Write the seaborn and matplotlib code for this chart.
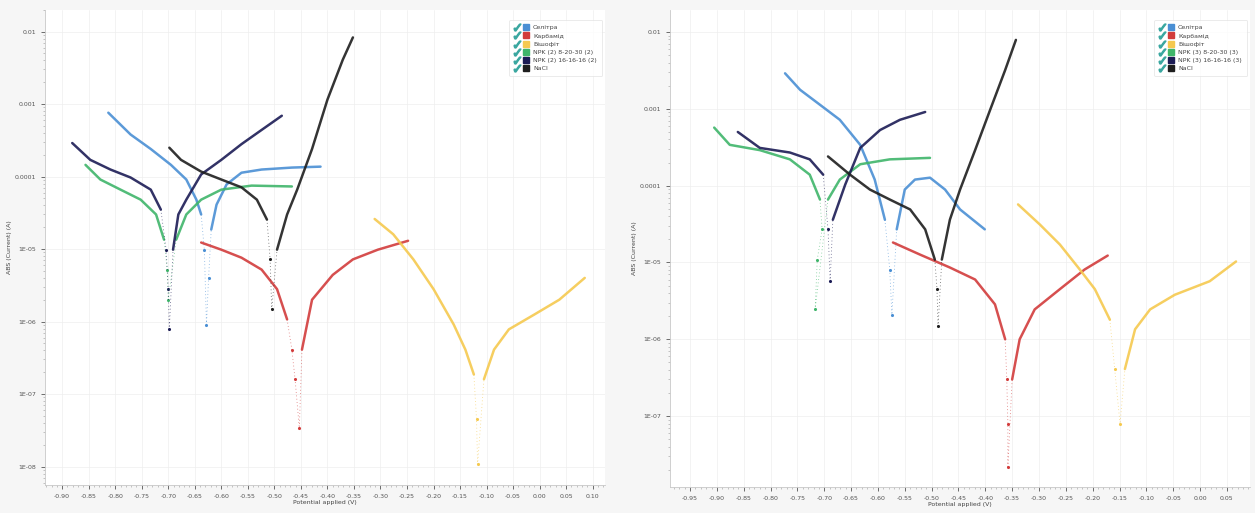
import numpy as np
import pandas as pd
import matplotlib
matplotlib.use("Agg")
import matplotlib.pyplot as plt
import seaborn as sns
from matplotlib.lines import Line2D
from matplotlib.legend_handler import HandlerTuple
from matplotlib.ticker import FixedLocator, FuncFormatter, MultipleLocator, LogLocator, NullFormatter

# ---------------- data (potential V, |current| A) ----------------
series_names_L = ["Селітра", "Карбамід", "Бішофіт", "NPK (2) 8-20-30 (2)", "NPK (2) 16-16-16 (2)", "NaCl"]
series_names_R = ["Селітра", "Карбамід", "Бішофіт", "NPK (3) 8-20-30 (3)", "NPK (3) 16-16-16 (3)", "NaCl"]
colors = ["#4a8fd4", "#d23c3c", "#f5c94f", "#3fb56a", "#1c1c55", "#1e1e1e"]

# Left panel: cathodic branch, dip points, anodic branch
L_selitra_cath_E = [-0.813, -0.771, -0.733, -0.695, -0.666, -0.647, -0.638]
L_selitra_cath_I = [7.6e-4, 3.8e-4, 2.4e-4, 1.45e-4, 9.1e-5, 4.8e-5, 3.0e-5]
L_selitra_dip_E = [-0.632, -0.628, -0.624]
L_selitra_dip_I = [9.8e-6, 9.1e-7, 4.0e-6]
L_selitra_an_E = [-0.619, -0.609, -0.590, -0.562, -0.524, -0.467, -0.413]
L_selitra_an_I = [1.86e-5, 4.1e-5, 7.8e-5, 1.13e-4, 1.25e-4, 1.33e-4, 1.37e-4]

L_karb_cath_E = [-0.638, -0.600, -0.562, -0.524, -0.495, -0.476]
L_karb_cath_I = [1.23e-5, 9.8e-6, 7.6e-6, 5.2e-6, 2.8e-6, 1.07e-6]
L_karb_dip_E = [-0.467, -0.461, -0.453]
L_karb_dip_I = [4.1e-7, 1.6e-7, 3.4e-8]
L_karb_an_E = [-0.448, -0.429, -0.390, -0.352, -0.305, -0.248]
L_karb_an_I = [4.1e-7, 2.0e-6, 4.4e-6, 7.2e-6, 9.8e-6, 1.3e-5]

L_bish_cath_E = [-0.311, -0.276, -0.238, -0.200, -0.162, -0.140, -0.124]
L_bish_cath_I = [2.6e-5, 1.6e-5, 7.2e-6, 2.8e-6, 9.1e-7, 4.1e-7, 1.86e-7]
L_bish_dip_E = [-0.119, -0.117]
L_bish_dip_I = [4.5e-8, 1.07e-8]
L_bish_an_E = [-0.105, -0.086, -0.058, -0.010, 0.037, 0.085]
L_bish_an_I = [1.6e-7, 4.1e-7, 7.8e-7, 1.25e-6, 2.0e-6, 4.0e-6]

L_npk8_cath_E = [-0.856, -0.828, -0.790, -0.752, -0.723, -0.708]
L_npk8_cath_I = [1.45e-4, 9.1e-5, 6.6e-5, 4.8e-5, 3.0e-5, 1.35e-5]
L_npk8_dip_E = [-0.702, -0.700]
L_npk8_dip_I = [5.2e-6, 2.0e-6]
L_npk8_an_E = [-0.685, -0.666, -0.638, -0.600, -0.543, -0.467]
L_npk8_an_I = [1.35e-5, 3.0e-5, 4.8e-5, 6.6e-5, 7.5e-5, 7.3e-5]

L_npk16_cath_E = [-0.881, -0.847, -0.809, -0.771, -0.733, -0.714]
L_npk16_cath_I = [2.9e-4, 1.7e-4, 1.25e-4, 9.7e-5, 6.6e-5, 3.5e-5]
L_npk16_dip_E = [-0.704, -0.700, -0.698]
L_npk16_dip_I = [9.8e-6, 2.8e-6, 7.8e-7]
L_npk16_an_E = [-0.691, -0.681, -0.666, -0.638, -0.600, -0.562, -0.524, -0.486]
L_npk16_an_I = [9.8e-6, 3.0e-5, 4.8e-5, 1.07e-4, 1.7e-4, 2.8e-4, 4.4e-4, 6.9e-4]

L_nacl_cath_E = [-0.698, -0.676, -0.638, -0.600, -0.562, -0.533, -0.514]
L_nacl_cath_I = [2.5e-4, 1.7e-4, 1.17e-4, 9.1e-5, 7.1e-5, 4.8e-5, 2.55e-5]
L_nacl_dip_E = [-0.508, -0.505]
L_nacl_dip_I = [7.2e-6, 1.47e-6]
L_nacl_an_E = [-0.495, -0.476, -0.457, -0.429, -0.400, -0.371, -0.352]
L_nacl_an_I = [9.8e-6, 3.0e-5, 6.6e-5, 2.4e-4, 1.15e-3, 4.1e-3, 8.3e-3]

# Right panel
R_selitra_cath_E = [-0.773, -0.745, -0.708, -0.671, -0.633, -0.606, -0.587]
R_selitra_cath_I = [2.9e-3, 1.77e-3, 1.13e-3, 7.2e-4, 3.4e-4, 1.2e-4, 3.6e-5]
R_selitra_dip_E = [-0.578, -0.574]
R_selitra_dip_I = [8.1e-6, 2.1e-6]
R_selitra_an_E = [-0.565, -0.550, -0.531, -0.503, -0.475, -0.447, -0.401]
R_selitra_an_I = [2.7e-5, 8.9e-5, 1.2e-4, 1.27e-4, 8.9e-5, 4.9e-5, 2.7e-5]

R_karb_cath_E = [-0.572, -0.522, -0.466, -0.419, -0.382, -0.363]
R_karb_cath_I = [1.82e-5, 1.27e-5, 8.6e-6, 6.0e-6, 2.85e-6, 1.0e-6]
R_karb_dip_E = [-0.360, -0.358, -0.358]
R_karb_dip_I = [3.0e-7, 7.9e-8, 2.2e-8]
R_karb_an_E = [-0.350, -0.336, -0.308, -0.261, -0.215, -0.172]
R_karb_an_I = [3.0e-7, 1.0e-6, 2.45e-6, 4.5e-6, 8.1e-6, 1.23e-5]

R_bish_cath_E = [-0.339, -0.298, -0.261, -0.224, -0.196, -0.168]
R_bish_cath_I = [5.7e-5, 3.1e-5, 1.71e-5, 8.1e-6, 4.5e-6, 1.8e-6]
R_bish_dip_E = [-0.159, -0.149]
R_bish_dip_I = [4.1e-7, 7.9e-8]
R_bish_an_E = [-0.140, -0.121, -0.093, -0.047, 0.018, 0.067]
R_bish_an_I = [4.1e-7, 1.35e-6, 2.45e-6, 3.8e-6, 5.7e-6, 1.03e-5]

R_npk8_cath_E = [-0.905, -0.876, -0.820, -0.764, -0.727, -0.708]
R_npk8_cath_I = [5.7e-4, 3.4e-4, 2.9e-4, 2.2e-4, 1.39e-4, 6.6e-5]
R_npk8_dip_E = [-0.704, -0.713, -0.717]
R_npk8_dip_I = [2.7e-5, 1.09e-5, 2.45e-6]
R_npk8_an_E = [-0.693, -0.671, -0.633, -0.578, -0.503]
R_npk8_an_I = [6.6e-5, 1.2e-4, 1.9e-4, 2.2e-4, 2.3e-4]

R_npk16_cath_E = [-0.861, -0.820, -0.764, -0.727, -0.702]
R_npk16_cath_I = [5.0e-4, 3.1e-4, 2.7e-4, 2.2e-4, 1.39e-4]
R_npk16_dip_E = [-0.693, -0.689]
R_npk16_dip_I = [2.7e-5, 5.7e-6]
R_npk16_an_E = [-0.684, -0.661, -0.633, -0.596, -0.559, -0.512]
R_npk16_an_I = [3.6e-5, 1.03e-4, 3.1e-4, 5.3e-4, 7.2e-4, 9.1e-4]

R_nacl_cath_E = [-0.693, -0.652, -0.615, -0.578, -0.540, -0.512, -0.494]
R_nacl_cath_I = [2.4e-4, 1.39e-4, 8.9e-5, 6.6e-5, 4.9e-5, 2.7e-5, 1.09e-5]
R_nacl_dip_E = [-0.490, -0.488]
R_nacl_dip_I = [4.5e-6, 1.48e-6]
R_nacl_an_E = [-0.481, -0.466, -0.447, -0.419, -0.391, -0.363, -0.343]
R_nacl_an_I = [1.09e-5, 3.6e-5, 8.9e-5, 2.9e-4, 9.7e-4, 3.2e-3, 7.9e-3]

x_ticks_L = [-0.90, -0.85, -0.80, -0.75, -0.70, -0.65, -0.60, -0.55, -0.50, -0.45, -0.40,
             -0.35, -0.30, -0.25, -0.20, -0.15, -0.10, -0.05, 0.00, 0.05, 0.10]
x_ticks_R = [-0.95, -0.90, -0.85, -0.80, -0.75, -0.70, -0.65, -0.60, -0.55, -0.50, -0.45,
             -0.40, -0.35, -0.30, -0.25, -0.20, -0.15, -0.10, -0.05, 0.00, 0.05]
y_ticks_L = [1e-2, 1e-3, 1e-4, 1e-5, 1e-6, 1e-7, 1e-8]
y_ticks_R = [1e-2, 1e-3, 1e-4, 1e-5, 1e-6, 1e-7]
y_tick_labels = {1e-2: "0.01", 1e-3: "0.001", 1e-4: "0.0001", 1e-5: "1E-05",
                 1e-6: "1E-06", 1e-7: "1E-07", 1e-8: "1E-08"}

# ---------------- plotting ----------------
sns.set_theme(style="white")
plt.rcParams['font.family'] = ['DejaVu Sans']

fig = plt.figure(figsize=(12.55, 5.13), dpi=100, facecolor="#f6f6f6")
axL = fig.add_axes([0.036, 0.055, 0.446, 0.926])
axR = fig.add_axes([0.534, 0.051, 0.462, 0.930])

L_data = [
    (L_selitra_cath_E, L_selitra_cath_I, L_selitra_dip_E, L_selitra_dip_I, L_selitra_an_E, L_selitra_an_I),
    (L_karb_cath_E, L_karb_cath_I, L_karb_dip_E, L_karb_dip_I, L_karb_an_E, L_karb_an_I),
    (L_bish_cath_E, L_bish_cath_I, L_bish_dip_E, L_bish_dip_I, L_bish_an_E, L_bish_an_I),
    (L_npk8_cath_E, L_npk8_cath_I, L_npk8_dip_E, L_npk8_dip_I, L_npk8_an_E, L_npk8_an_I),
    (L_npk16_cath_E, L_npk16_cath_I, L_npk16_dip_E, L_npk16_dip_I, L_npk16_an_E, L_npk16_an_I),
    (L_nacl_cath_E, L_nacl_cath_I, L_nacl_dip_E, L_nacl_dip_I, L_nacl_an_E, L_nacl_an_I),
]
R_data = [
    (R_selitra_cath_E, R_selitra_cath_I, R_selitra_dip_E, R_selitra_dip_I, R_selitra_an_E, R_selitra_an_I),
    (R_karb_cath_E, R_karb_cath_I, R_karb_dip_E, R_karb_dip_I, R_karb_an_E, R_karb_an_I),
    (R_bish_cath_E, R_bish_cath_I, R_bish_dip_E, R_bish_dip_I, R_bish_an_E, R_bish_an_I),
    (R_npk8_cath_E, R_npk8_cath_I, R_npk8_dip_E, R_npk8_dip_I, R_npk8_an_E, R_npk8_an_I),
    (R_npk16_cath_E, R_npk16_cath_I, R_npk16_dip_E, R_npk16_dip_I, R_npk16_an_E, R_npk16_an_I),
    (R_nacl_cath_E, R_nacl_cath_I, R_nacl_dip_E, R_nacl_dip_I, R_nacl_an_E, R_nacl_an_I),
]


def draw_panel(ax, data, names, xticks, yticks, xlim, ylim):
    ax.set_facecolor("white")
    ax.set_yscale("log")
    for (cE, cI, dE, dI, aE, aI), col in zip(data, colors):
        for E, I in ((cE, cI), (aE, aI)):
            df = pd.DataFrame({"E": E, "I": I})
            sns.lineplot(data=df, x="E", y="I", ax=ax, color=col, lw=1.8,
                         sort=False, estimator=None, legend=False, alpha=0.9)
        # sparse dots near the corrosion potential
        dfd = pd.DataFrame({"E": [cE[-1]] + dE + [aE[0]], "I": [cI[-1]] + dI + [aI[0]]})
        sns.lineplot(data=dfd, x="E", y="I", ax=ax, color=col, lw=0.6, ls=(0, (1, 3)),
                     sort=False, estimator=None, legend=False, alpha=0.7)
        sns.scatterplot(x=dE, y=dI, ax=ax, color=col, s=5, linewidth=0, legend=False)
    ax.set_xlim(*xlim)
    ax.set_ylim(*ylim)
    ax.xaxis.set_major_locator(FixedLocator(xticks))
    ax.xaxis.set_major_formatter(FuncFormatter(lambda v, p: f"{v:.2f}"))
    ax.xaxis.set_minor_locator(MultipleLocator(0.01))
    ax.yaxis.set_major_locator(FixedLocator(yticks))
    ax.yaxis.set_major_formatter(FuncFormatter(
        lambda v, p: min(((abs(np.log10(v) - np.log10(k)), s) for k, s in y_tick_labels.items()))[1]))
    ax.yaxis.set_minor_locator(LogLocator(base=10, subs=np.arange(2, 10)))
    ax.yaxis.set_minor_formatter(NullFormatter())
    ax.tick_params(axis="both", which="major", labelsize=4.5, colors="#555555",
                   length=3, width=0.6, direction="out", bottom=True, left=True)
    ax.tick_params(axis="both", which="minor", length=1.5, width=0.4, colors="#999999",
                   bottom=True, left=True)
    ax.grid(True, which="major", color="#eeeeee", lw=0.5)
    for s in ["top", "right"]:
        ax.spines[s].set_visible(False)
    for s in ["left", "bottom"]:
        ax.spines[s].set_color("#c8c8c8")
        ax.spines[s].set_linewidth(0.6)
    ax.set_xlabel("Potential applied (V)", fontsize=4.5, color="#444444", labelpad=1)
    ax.set_ylabel("ABS (Current) (A)", fontsize=4.5, color="#444444", labelpad=2)

    handles = []
    for col in colors:
        chk = Line2D([], [], marker="$\u2713$", color="#3aa7a0", ls="none", markersize=5)
        sq = Line2D([], [], marker="s", color=col, ls="none", markersize=4)
        handles.append((chk, sq))
    leg = ax.legend(handles, names, loc="upper right", fontsize=4.5,
                    handler_map={tuple: HandlerTuple(ndivide=None, pad=0.6)},
                    handlelength=2.2, frameon=True, borderpad=0.8, labelspacing=0.45,
                    bbox_to_anchor=(1.0, 0.985))
    leg.get_frame().set_edgecolor("#e2e2e2")
    leg.get_frame().set_linewidth(0.6)
    for t in leg.get_texts():
        t.set_color("#444444")


draw_panel(axL, L_data, series_names_L, x_ticks_L, y_ticks_L, (-0.932, 0.123), (5.6e-9, 2.0e-2))
draw_panel(axR, R_data, series_names_R, x_ticks_R, y_ticks_R, (-0.987, 0.093), (1.2e-8, 1.95e-2))

fig.savefig("out.png", dpi=100, facecolor=fig.get_facecolor())
